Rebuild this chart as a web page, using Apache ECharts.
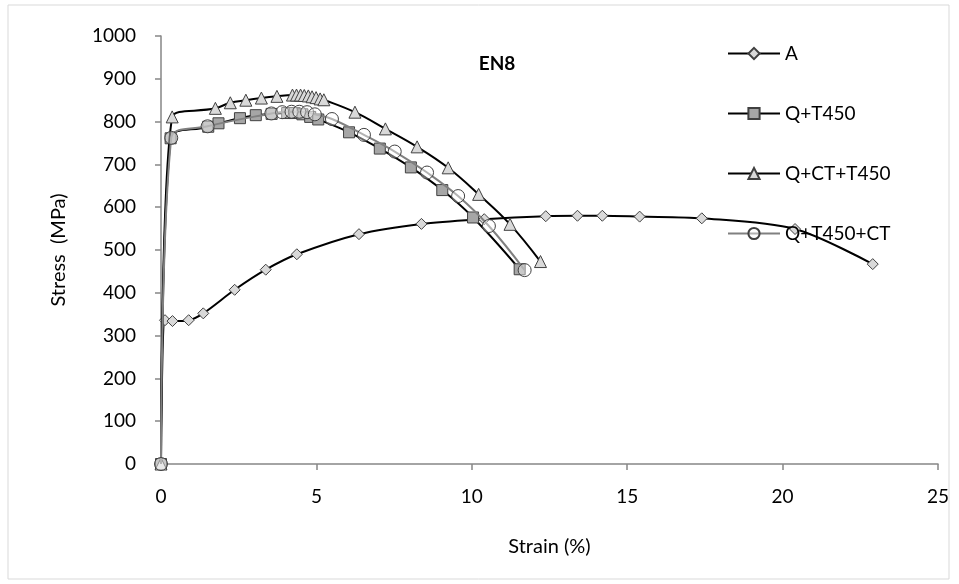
<!DOCTYPE html>
<html>
<head>
<meta charset="utf-8">
<script src="https://cdn.jsdelivr.net/npm/echarts@6/dist/echarts.min.js"></script>
<style>
  html, body { margin: 0; padding: 0; background: #fff; }
  #chart { width: 959px; height: 584px; }
</style>
</head>
<body>
<div id="chart"></div>
<script>
// strain (%) and stress (MPa)
var aStrain = [0, 0.13, 0.37, 0.89, 1.36, 2.37, 3.37, 4.37, 6.37, 8.38, 10.4, 12.38, 13.4, 14.2, 15.4, 17.4, 20.4, 22.9];
var aStress = [0, 336, 334, 336, 352, 407, 454, 490, 537, 561, 572, 579, 580, 580, 578, 574, 549, 467];

var qtStrain = [0, 0.31, 1.52, 1.85, 2.54, 3.05, 3.56, 4.06, 4.3, 4.55, 4.8, 5.06, 6.05, 7.04, 8.04, 9.05, 10.04, 11.54];
var qtStress = [0, 761, 788, 796, 808, 815, 818, 820, 820, 817, 811, 805, 775, 737, 693, 640, 576, 455];

var qctStrain = [0, 0.36, 1.75, 2.23, 2.73, 3.23, 3.73, 4.23, 4.36, 4.49, 4.61, 4.74, 4.86, 4.99, 5.12, 5.24, 6.24, 7.22, 8.24, 9.24, 10.22, 11.23, 12.21];
var qctStress = [0, 811, 831, 844, 850, 855, 859, 862, 862, 862, 861, 860, 858, 856, 853, 851, 822, 783, 741, 692, 630, 560, 473];

var qtcStrain = [0, 0.33, 1.5, 3.55, 3.9, 4.2, 4.45, 4.7, 4.95, 5.5, 6.53, 7.52, 8.56, 9.56, 10.55, 11.7];
var qtcStress = [0, 762, 789, 819, 822, 823, 823, 822, 817, 806, 769, 730, 681, 626, 556, 453];

var seriesNames = ['A', 'Q+T450', 'Q+CT+T450', 'Q+T450+CT'];

function pairs(xs, ys) {
    return xs.map(function (x, i) { return [x, ys[i]]; });
}

var FONT = 'Lato, "Open Sans", sans-serif';

var chart = echarts.init(document.getElementById('chart'));

chart.setOption({
    backgroundColor: '#fff',
    animation: false,
    graphic: [{
        type: 'rect',
        shape: { x: 8, y: 5, width: 941, height: 574 },
        style: { fill: 'none', stroke: '#d9d9d9', lineWidth: 1 },
        silent: true
    }],
    title: {
        text: 'EN8',
        left: 492,
        top: 49,
        textAlign: 'center',
        textStyle: { fontFamily: FONT, fontSize: 19, fontWeight: 'bold', color: '#000' }
    },
    legend: {
        orient: 'vertical',
        left: 722,
        top: 39,
        itemWidth: 52,
        itemHeight: 14,
        itemGap: 41,
        textStyle: { fontFamily: FONT, fontSize: 19, color: '#000' },
        data: seriesNames
    },
    grid: { left: 161, right: 21, top: 36, bottom: 120 },
    xAxis: {
        type: 'value',
        min: 0,
        max: 25,
        interval: 5,
        name: 'Strain (%)',
        nameLocation: 'middle',
        nameGap: 73,
        nameTextStyle: { fontFamily: FONT, fontSize: 20, color: '#000' },
        axisLine: { onZero: false, lineStyle: { color: '#868686', width: 1.5 } },
        axisTick: { show: true, length: 6, lineStyle: { color: '#868686', width: 1.5 } },
        axisLabel: { fontFamily: FONT, fontSize: 19, color: '#000', margin: 23 },
        splitLine: { show: false }
    },
    yAxis: {
        type: 'value',
        min: 0,
        max: 1000,
        interval: 100,
        name: 'Stress  (MPa)',
        nameLocation: 'middle',
        nameGap: 92,
        nameTextStyle: { fontFamily: FONT, fontSize: 20, color: '#000' },
        axisLine: { show: true, lineStyle: { color: '#868686', width: 1.5 } },
        axisTick: { show: true, length: 6, lineStyle: { color: '#868686', width: 1.5 } },
        axisLabel: {
            fontFamily: FONT, fontSize: 19, color: '#000', margin: 25,
            formatter: function (v) { return String(v); }
        },
        splitLine: { show: false }
    },
    series: [
        {
            name: 'A',
            type: 'line',
            data: pairs(aStrain, aStress),
            smooth: 0.3,
            symbol: 'diamond',
            symbolSize: 11,
            lineStyle: { color: '#000', width: 2 },
            itemStyle: { color: '#d9d9d9', borderColor: '#404040', borderWidth: 1 },
            z: 2
        },
        {
            name: 'Q+T450',
            type: 'line',
            data: pairs(qtStrain, qtStress),
            smooth: 0.4,
            symbol: 'rect',
            symbolSize: 11,
            lineStyle: { color: '#000', width: 2 },
            itemStyle: { color: '#a6a6a6', borderColor: '#404040', borderWidth: 1 },
            z: 3
        },
        {
            name: 'Q+CT+T450',
            type: 'line',
            data: pairs(qctStrain, qctStress),
            smooth: 0.4,
            symbol: 'triangle',
            symbolSize: 12,
            lineStyle: { color: '#000', width: 2 },
            itemStyle: { color: '#d9d9d9', borderColor: '#404040', borderWidth: 1 },
            z: 4
        },
        {
            name: 'Q+T450+CT',
            type: 'line',
            data: pairs(qtcStrain, qtcStress),
            smooth: 0.4,
            symbol: 'circle',
            symbolSize: 13,
            lineStyle: { color: '#808080', width: 2 },
            itemStyle: { color: 'rgba(255,255,255,0.4)', borderColor: '#404040', borderWidth: 1 },
            z: 5
        }
    ]
});

window.addEventListener('resize', function () {
    chart.resize();
});
</script>
</body>
</html>
